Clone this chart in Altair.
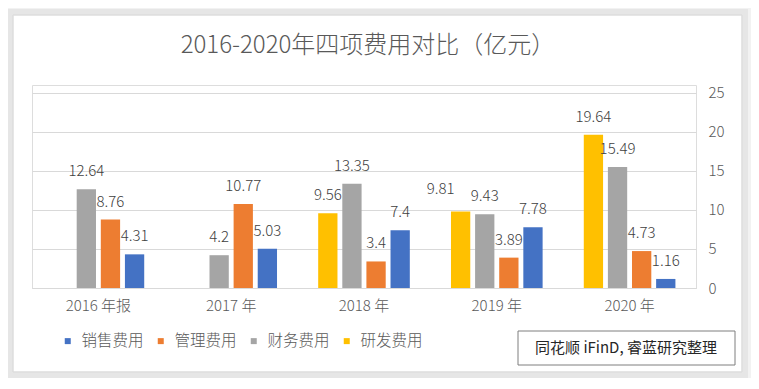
import altair as alt
import pandas as pd

years = ["2016 年报", "2017 年", "2018 年", "2019 年", "2020 年"]
sales = [4.31, 5.03, 7.4, 7.78, 1.16]
mgmt = [8.76, 10.77, 3.4, 3.89, 4.73]
fin = [12.64, 4.2, 13.35, 9.43, 15.49]
rd = [None, None, 9.56, 9.81, 19.64]

legend_order = ["销售费用", "管理费用", "财务费用", "研发费用"]
bar_order = ["研发费用", "财务费用", "管理费用", "销售费用"]
colors = ["#4472C4", "#ED7D31", "#A5A5A5", "#FFC000"]
title_text = "2016-2020年四项费用对比（亿元）"
source_text = "同花顺 iFinD, 睿蓝研究整理"

rows = []
for name, vals in zip(legend_order, [sales, mgmt, fin, rd]):
    for y, v in zip(years, vals):
        if v is not None:
            rows.append({"year": y, "type": name, "value": v})
df = pd.DataFrame(rows)

FONT = "Noto Sans CJK SC"
W, H = 664, 203

base = alt.Chart(df).encode(
    x=alt.X("year:N", sort=years, title=None,
            scale=alt.Scale(paddingInner=0.31, paddingOuter=0.155),
            axis=alt.Axis(labelAngle=0, labelFontSize=15, labelColor="#595959",
                          labelFont=FONT, labelFontWeight=300, labelPadding=10, ticks=False,
                          domainColor="#d9d9d9", grid=False)),
    xOffset=alt.XOffset("type:N", sort=bar_order,
                        scale=alt.Scale(domain=bar_order, paddingInner=0.2, paddingOuter=0)),
)

bars = base.mark_bar().encode(
    y=alt.Y("value:Q", title=None,
            scale=alt.Scale(domain=[0, 25]),
            axis=alt.Axis(orient="right", values=[0, 5, 10, 15, 20, 25],
                          labelFontSize=15, labelColor="#595959", labelFont=FONT,
                          labelFontWeight=300,
                          labelPadding=12, ticks=False, domain=False,
                          gridColor="#d9d9d9")),
    color=alt.Color("type:N", sort=legend_order,
                    scale=alt.Scale(domain=legend_order, range=colors),
                    legend=alt.Legend(title=None, orient="none", direction="horizontal",
                                      legendX=28, legendY=248, symbolType="square",
                                      symbolSize=36, symbolStrokeWidth=0,
                                      labelFontSize=15.5, labelColor="#595959",
                                      labelFont=FONT, labelFontWeight=300,
                                      labelOffset=6, columnPadding=9)),
)

is_special = (alt.datum.year == "2019 年") & (alt.datum.type == "研发费用")

labels = base.mark_text(fontSize=15, color="#404040", font=FONT, fontWeight=300,
                        baseline="middle", dy=-18).encode(
    y=alt.Y("value:Q"),
    text=alt.Text("value:Q"),
).transform_filter(~is_special)

label_special = base.mark_text(fontSize=15, color="#404040", font=FONT, fontWeight=300,
                               baseline="middle", dx=-20, dy=-22).encode(
    y=alt.Y("value:Q"),
    text=alt.Text("value:Q"),
).transform_filter(is_special)

one = pd.DataFrame({"k": [0]})

frame_shadow2 = alt.Chart(one).mark_rect(
    fillOpacity=0, stroke="#f2f2f2", strokeWidth=12
).encode(x=alt.value(-24), x2=alt.value(715), y=alt.value(-75), y2=alt.value(292))

frame_shadow = alt.Chart(one).mark_rect(
    fillOpacity=0, stroke="#e6e6e6", strokeWidth=6
).encode(x=alt.value(-22), x2=alt.value(713), y=alt.value(-73), y2=alt.value(290))

frame = alt.Chart(one).mark_rect(
    fillOpacity=0, stroke="#d9d9d9", strokeWidth=1
).encode(x=alt.value(-19), x2=alt.value(710), y=alt.value(-70), y2=alt.value(287))

title = alt.Chart(pd.DataFrame({"t": [title_text]})).mark_text(
    fontSize=24, color="#595959", font=FONT, fontWeight=300, align="center", baseline="middle"
).encode(x=alt.value(336), y=alt.value(-39), text="t:N")

src_box = alt.Chart(one).mark_rect(
    fill="white", stroke="#7f7f7f", strokeWidth=1
).encode(x=alt.value(486), x2=alt.value(703), y=alt.value(246), y2=alt.value(280))

src_text = alt.Chart(pd.DataFrame({"t": [source_text]})).mark_text(
    fontSize=15, color="#262626", font=FONT, align="center", baseline="middle"
).encode(x=alt.value(594), y=alt.value(263), text="t:N")

chart = alt.layer(frame_shadow2, frame_shadow, frame, title, bars, labels, label_special,
                  src_box, src_text).properties(
    width=W, height=H,
    autosize=alt.AutoSizeParams(type="none"),
    padding={"left": 24, "top": 77, "right": 55, "bottom": 90},
).configure_view(stroke=None).configure(background="white")

chart.save("out.html", embed_options={"renderer": "svg", "actions": False})
